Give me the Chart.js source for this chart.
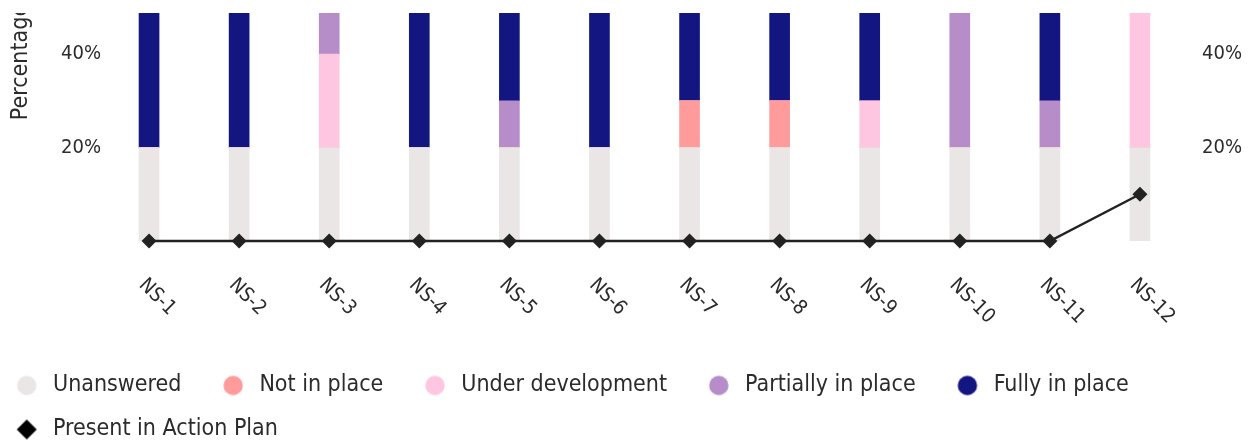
<!DOCTYPE html>
<html><head><meta charset="utf-8">
<script src="https://cdn.jsdelivr.net/npm/chart.js@4.4.1/dist/chart.umd.min.js"></script>
<style>
html,body{margin:0;padding:0;background:#fff;}
#wrap{position:absolute;left:0;top:13px;width:1249px;height:432px;overflow:hidden;}
#box{position:absolute;left:-25px;top:-159px;width:1274px;height:597px;}
</style></head><body>
<div id="wrap"><div id="box"><canvas id="chart"></canvas></div></div>
<script>
// ---- data ----
const categories = ['NS-1','NS-2','NS-3','NS-4','NS-5','NS-6','NS-7','NS-8','NS-9','NS-10','NS-11','NS-12'];
const unanswered       = [20,20,20,20,20,20,20,20,20,20,20,20];
const notInPlace       = [0,0,0,0,0,0,10,10,0,0,0,0];
const underDevelopment = [0,0,20,0,0,0,0,0,10,0,0,80];
const partiallyInPlace = [0,0,60,0,10,0,0,0,0,80,10,0];
const fullyInPlace     = [80,80,0,80,70,80,70,70,70,0,70,0];
const presentInActionPlan = [0,0,0,0,0,0,0,0,0,0,0,10];
const seriesNames = ['Unanswered','Not in place','Under development','Partially in place','Fully in place','Present in Action Plan'];
const yTickStep = 20;
const yMax = 76.6;

// ---- styles ----
const FONT = "'DejaVu Sans Condensed','DejaVu Sans',sans-serif";
const TEXT = '#2b2b2b';
const colors = ['#EAE6E5','#FF9B9B','#FFC6E2','#B68DC8','#131680','#222222'];

function circleImg(color){
  const c=document.createElement('canvas');c.width=46;c.height=22;
  const g=c.getContext('2d');g.fillStyle=color;g.beginPath();g.arc(31,11,9.7,0,Math.PI*2);g.fill();return c;
}
function diamondImg(color){
  const c=document.createElement('canvas');c.width=46;c.height=22;
  const g=c.getContext('2d');g.fillStyle=color;g.beginPath();
  g.moveTo(31,1);g.lineTo(41,11);g.lineTo(31,21);g.lineTo(21,11);g.closePath();g.fill();return c;
}
const markers = [0,1,2,3,4].map(i=>circleImg(colors[i])).concat([diamondImg('#000')]);

Chart.defaults.font.family = FONT;
Chart.defaults.color = TEXT;

const xLabelPlugin = {
  id:'xLabels',
  afterDraw(chart){
    const {ctx, chartArea} = chart; const x = chart.scales.x;
    ctx.save();
    ctx.font = "20px " + FONT; ctx.fillStyle = TEXT;
    ctx.textAlign='left'; ctx.textBaseline='middle';
    chart.data.labels.forEach((lab,i)=>{
      const px = x.getPixelForTick(i);
      ctx.save(); ctx.translate(px-7, chartArea.bottom+41); ctx.rotate(Math.PI/4);
      ctx.fillText(lab,0,0); ctx.restore();
    });
    ctx.restore();
  }
};

const barSets = [unanswered,notInPlace,underDevelopment,partiallyInPlace,fullyInPlace].map((d,i)=>({
  type:'bar', label:seriesNames[i], data:d, backgroundColor:colors[i], borderWidth:0,
  barThickness:20, order:1, yAxisID:'y'
}));

new Chart(document.getElementById('chart'), {
  data:{
    labels:categories,
    datasets: barSets.concat([{
      type:'line', label:seriesNames[5], data:presentInActionPlan,
      borderColor:colors[5], backgroundColor:colors[5], borderWidth:2.5,
      pointStyle:'rectRot', pointRadius:7.5, pointHoverRadius:7.5,
      pointBackgroundColor:colors[5], pointBorderColor:colors[5], pointBorderWidth:0,
      order:0, clip:false, yAxisID:'y', tension:0
    }])
  },
  options:{
    responsive:true, maintainAspectRatio:false, animation:false, devicePixelRatio:1,
    layout:{padding:{top:20,left:0,right:0,bottom:0}},
    plugins:{
      tooltip:{enabled:false},
      legend:{
        position:'bottom', align:'start',
        labels:{
          font:{size:23}, color:TEXT, usePointStyle:true, pointStyleWidth:45.5, padding:21,
          generateLabels(chart){
            const items = Chart.defaults.plugins.legend.labels.generateLabels(chart);
            items.forEach(it=>{ it.pointStyle = markers[it.datasetIndex]; });
            return items.sort((a,b)=>a.datasetIndex-b.datasetIndex);
          }
        }
      }
    },
    scales:{
      x:{ stacked:true, grid:{display:false, drawTicks:false}, border:{display:false}, ticks:{display:false},
          afterFit(s){ s.height = 112; } },
      y:{ stacked:true, min:0, max:yMax, position:'left', grid:{display:false, drawTicks:false}, border:{display:false},
          ticks:{stepSize:yTickStep, padding:3, font:{size:20}, color:TEXT,
                 callback:v => (v>0 && v%yTickStep===0) ? v+'%' : ''},
          title:{display:true, text:'Percentage', font:{size:23}, color:TEXT, padding:{top:32,bottom:27}},
          afterFit(s){ s.width = 129; } },
      y2:{ min:0, max:yMax, position:'right', grid:{display:false, drawTicks:false}, border:{display:false},
          ticks:{stepSize:yTickStep, padding:17, font:{size:20}, color:TEXT,
                 callback:v => (v>0 && v%yTickStep===0) ? v+'%' : ''},
          afterFit(s){ s.width = 64; } }
    }
  },
  plugins:[xLabelPlugin]
});
</script></body></html>
